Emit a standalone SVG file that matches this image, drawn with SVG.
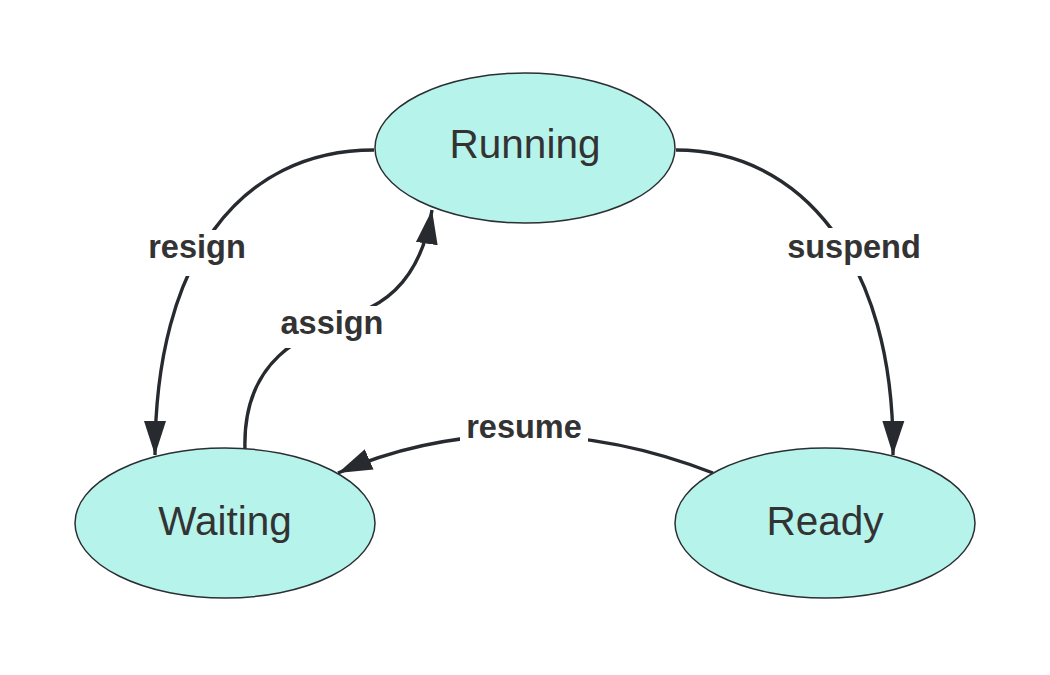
<svg xmlns="http://www.w3.org/2000/svg" width="1050" height="675" viewBox="0 0 1050 675">
<style>
.node{fill:#b6f4eb;stroke:#2b2f33;stroke-width:1.5}
.nt{font-family:"Liberation Sans",Arial,sans-serif;font-size:40.5px;fill:#333;text-anchor:middle}
.edge{fill:none;stroke:#272b30;stroke-width:3.4}
.lbg{fill:#fff}
.lt{font-family:"Liberation Sans",Arial,sans-serif;font-size:32.5px;font-weight:bold;fill:#333;text-anchor:middle}
</style>
<defs>
<marker id="ah" markerUnits="userSpaceOnUse" markerWidth="36" markerHeight="26" viewBox="0 0 36 26" refX="34" refY="13" orient="auto">
<path d="M0,2 L34,13 L0,24 Z" fill="#272b30"/>
</marker>
</defs>
<rect width="1050" height="675" fill="#fff"/>
<g id="connectors">
<path class="edge" d="M374,150 C240,150 155,260 155,455" marker-end="url(#ah)"/>
<path class="edge" d="M245,450 C242,360 300,335 360,312 C405,295 425,255 432,210" marker-end="url(#ah)"/>
<path class="edge" d="M676,150 C800,150 895,260 893,455" marker-end="url(#ah)"/>
<path class="edge" d="M713,473 C590,425 460,420 338,473" marker-end="url(#ah)"/>
</g>
<g id="labels">
<rect class="lbg" x="141" y="230" width="112" height="46"/>
<text class="lt" x="197" y="258">resign</text>
<rect class="lbg" x="273" y="306" width="118" height="42"/>
<text class="lt" x="332" y="334">assign</text>
<rect class="lbg" x="780" y="228" width="148" height="48"/>
<text class="lt" x="854" y="258">suspend</text>
<rect class="lbg" x="460" y="411" width="128" height="31"/>
<text class="lt" x="524" y="438">resume</text>
</g>
<g id="running">
<ellipse class="node" cx="525" cy="148" rx="150" ry="75"/>
<text class="nt" x="525" y="158">Running</text>
</g>
<g id="waiting">
<ellipse class="node" cx="225" cy="523" rx="150" ry="75"/>
<text class="nt" x="225" y="535">Waiting</text>
</g>
<g id="ready">
<ellipse class="node" cx="825" cy="523" rx="150" ry="75"/>
<text class="nt" x="825" y="535">Ready</text>
</g>
</svg>
